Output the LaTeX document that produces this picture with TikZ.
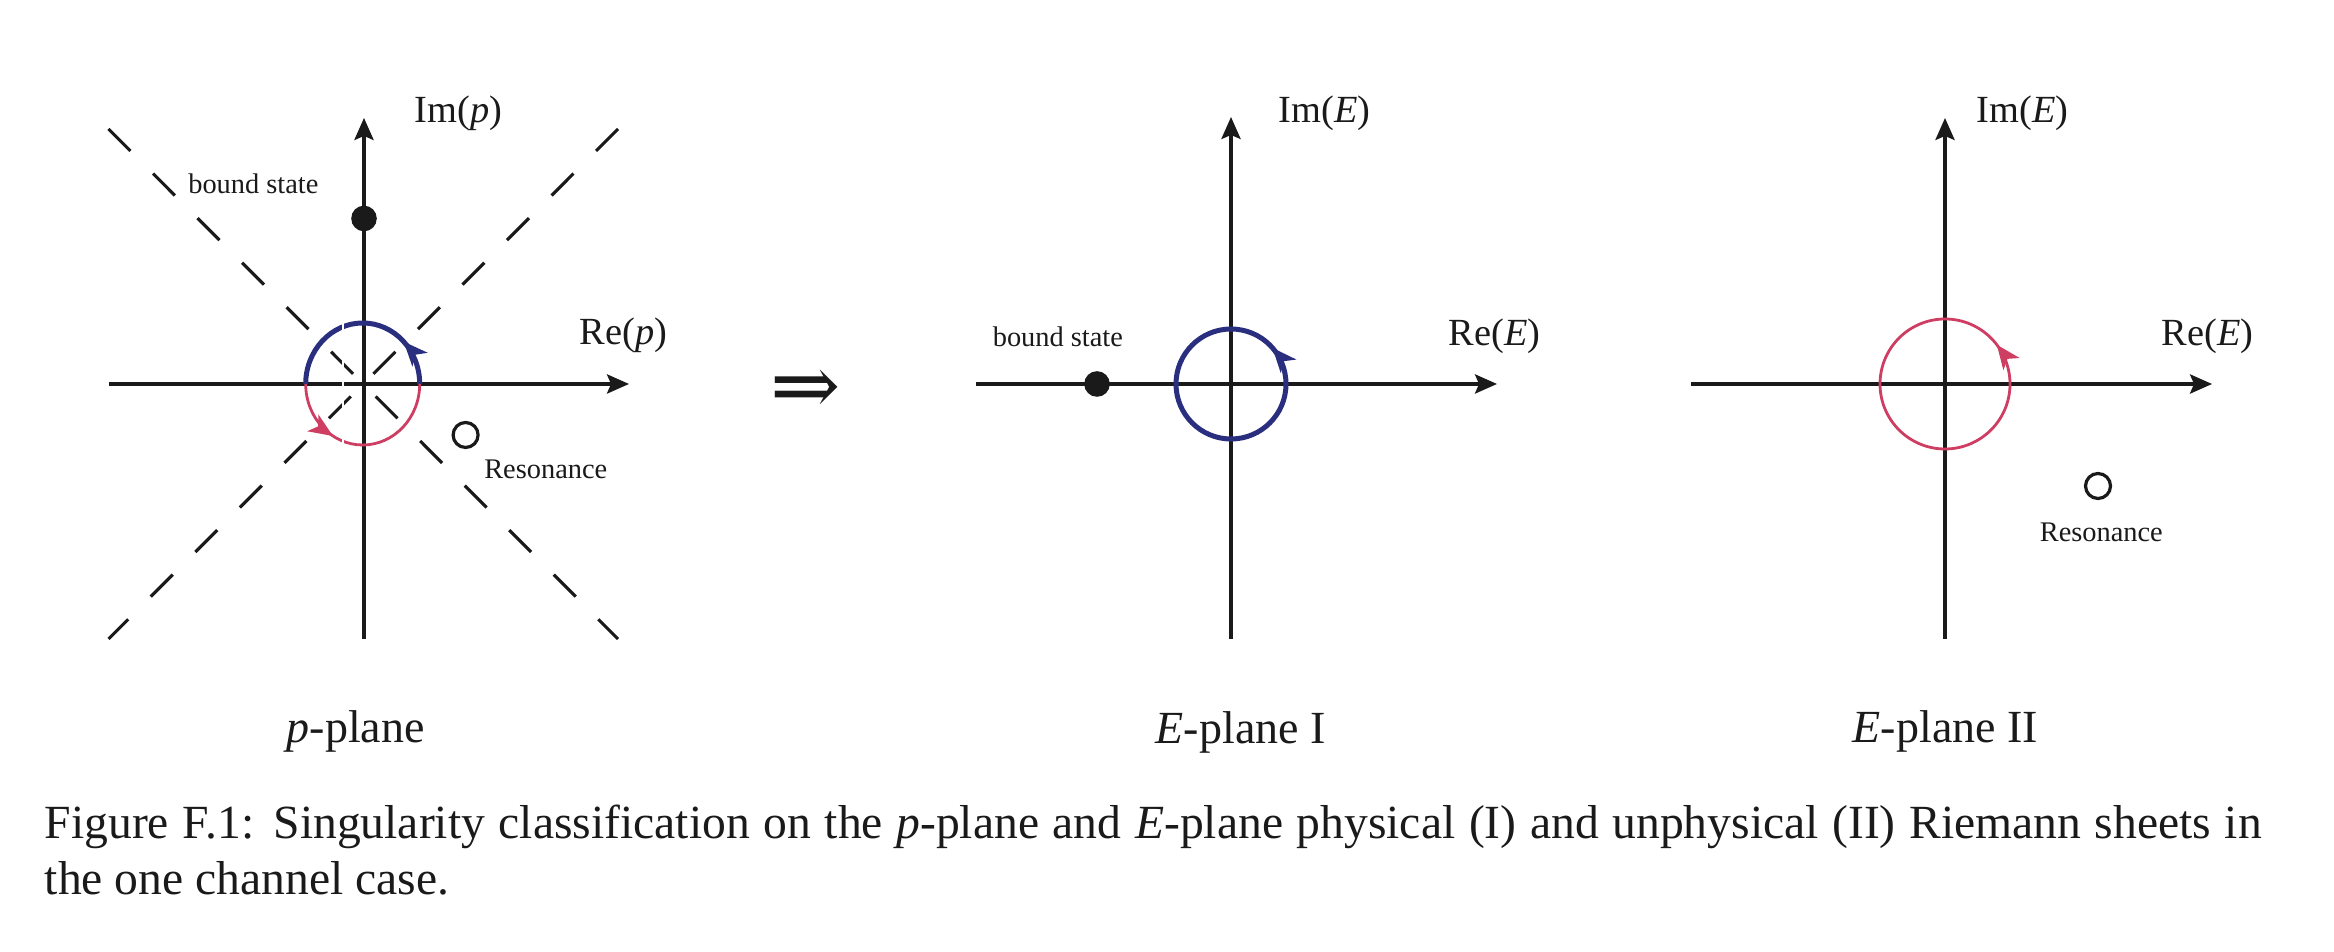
\documentclass[tikz,border=0pt]{standalone}
\usepackage{fontspec}
\setmainfont{Liberation Serif}
\newfontfamily\arrowfont{DejaVu Serif}
\usetikzlibrary{arrows.meta,decorations.markings}
\definecolor{cblue}{RGB}{42,46,126}
\definecolor{cred}{RGB}{205,62,98}
\definecolor{ink}{RGB}{26,26,26}
\begin{document}
\begin{tikzpicture}[x=0.25pt,y=0.25pt,
  axisline/.style={draw=ink,line width=0.78pt,-{Stealth[length=5.5pt,width=4.8pt,inset=1pt]}},
  cutline/.style={draw=ink,line width=0.78pt,dash pattern=on 7.75pt off 8pt},
  axislbl/.style={inner sep=0pt,anchor=base west,text=ink,font=\fontsize{9.6}{11}\selectfont},
  smalllbl/.style={inner sep=0pt,anchor=base west,text=ink,font=\fontsize{7.1}{8.5}\selectfont},
  planelbl/.style={inner sep=0pt,anchor=base west,text=ink,font=\fontsize{11.5}{14}\selectfont},
  captext/.style={inner sep=0pt,anchor=base west,text=ink,font=\fontsize{11.9}{14.25}\selectfont},
  filleddot/.style={circle,fill=ink,minimum size=6.4pt,inner sep=0pt},
  hollowdot/.style={circle,draw=ink,line width=0.8pt,minimum size=6.25pt,inner sep=0pt},
  midarrow/.style={postaction={decorate},decoration={markings,
      mark=at position #1 with {\arrow{Stealth[length=6pt,width=5pt,inset=1.6pt]}}}},
  bluepath/.style={draw=cblue,line width=1.25pt},
  redpath/.style={draw=cred,line width=0.7pt}
  ]
\useasboundingbox (0,0) rectangle (2334,952);

% ---------------- p-plane ----------------
\coordinate (p-ul) at (108.5,823);
\coordinate (p-ur) at (618,823);
\coordinate (p-ll) at (108.5,313);
\coordinate (p-lr) at (618,313);
\draw[cutline] (p-ul) -- (p-lr);
\draw[cutline] (p-ur) -- (p-ll);
\coordinate (p-l) at (108.5,568);
\coordinate (p-r) at (629,568);
\coordinate (p-b) at (364,313);
\coordinate (p-t) at (364,834);
\draw[axisline] (p-l) -- (p-r);
\draw[axisline] (p-b) -- (p-t);
\coordinate (p-c0) at (419.7,568);
\coordinate (p-c180) at (305.7,568);
\draw[bluepath,midarrow=0.25] (p-c0) arc[start angle=0,end angle=180,x radius=57,y radius=61];
\draw[redpath,midarrow=0.33] (p-c180) arc[start angle=180,end angle=360,x radius=57,y radius=61];
\draw[white,line width=0.35pt] (343,634) -- (343,502);
\node[filleddot] (p-bs) at (364,733.5) {};
\node[hollowdot] (p-res) at (465.6,517) {};
\node[axislbl] (p-im) at (414,829.5) {Im(\textit{p})};
\node[axislbl] (p-re) at (579,607) {Re(\textit{p})};
\node[smalllbl] (p-bsl) at (187.5,758) {bound state};
\node[smalllbl] (p-resl) at (483.5,473) {Resonance};
\node[planelbl] (p-name) at (286,209) {\textit{p}-plane};

% ---------------- implication ----------------
\node[inner sep=0pt,text=ink,font=\arrowfont\fontsize{21}{25}\selectfont] (impl) at (805.5,560) {⇒};

% ---------------- E-plane I ----------------
\coordinate (e1-l) at (976,568);
\coordinate (e1-r) at (1497,568);
\coordinate (e1-b) at (1231,313);
\coordinate (e1-t) at (1231,835);
\draw[axisline] (e1-l) -- (e1-r);
\draw[axisline] (e1-b) -- (e1-t);
\coordinate (e1-c) at (1231,568);
\draw[bluepath,midarrow=0.114] (e1-c) circle[radius=55];
\node[filleddot] (e1-bs) at (1097,568) {};
\node[axislbl] (e1-im) at (1278,829) {Im(\textit{E})};
\node[axislbl] (e1-re) at (1448,606) {Re(\textit{E})};
\node[smalllbl] (e1-bsl) at (992,605) {bound state};
\node[planelbl] (e1-name) at (1155,208.5) {\textit{E}-plane I};

% ---------------- E-plane II ----------------
\coordinate (e2-l) at (1691,568);
\coordinate (e2-r) at (2212,568);
\coordinate (e2-b) at (1945,313);
\coordinate (e2-t) at (1945,834);
\draw[axisline] (e2-l) -- (e2-r);
\draw[axisline] (e2-b) -- (e2-t);
\coordinate (e2-c) at (1945,568);
\draw[redpath,midarrow=0.103] (e2-c) circle[radius=65];
\node[hollowdot] (e2-res) at (2098,466) {};
\node[axislbl] (e2-im) at (1976,829.5) {Im(\textit{E})};
\node[axislbl] (e2-re) at (2161,606) {Re(\textit{E})};
\node[smalllbl] (e2-resl) at (2039,410) {Resonance};
\node[planelbl] (e2-name) at (1852,209) {\textit{E}-plane II};

% ---------------- caption ----------------
\node[captext] (cap1) at (44,113.7) {\hbox to 554.25pt{Figure F.1: Singularity classification on the \textit{p}-plane and \textit{E}-plane physical (I) and unphysical (II) Riemann sheets in}};
\node[captext] (cap2) at (44,57) {the one channel case.};
\end{tikzpicture}
\end{document}
